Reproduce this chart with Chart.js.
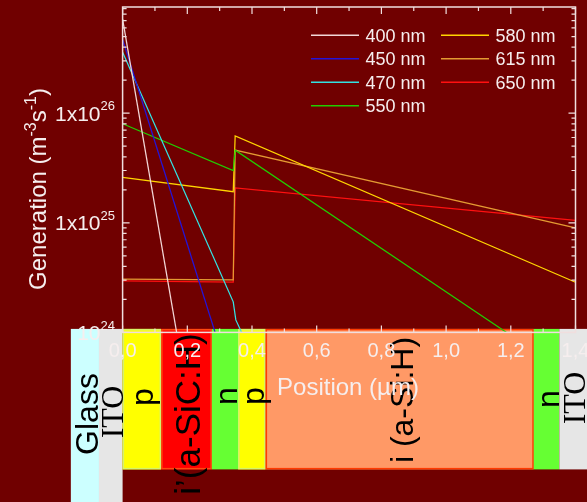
<!DOCTYPE html>
<html>
<head>
<meta charset="utf-8">
<script src="https://cdn.jsdelivr.net/npm/chart.js@4.4.1/dist/chart.umd.min.js"></script>
<style>
  html, body { margin: 0; padding: 0; background: #700000; overflow: hidden; }
  canvas { display: block; }
</style>
</head>
<body>
<canvas id="c" width="587" height="502"></canvas>
<script>
// Optical generation rate across a p-i'-n-p-i-n a-SiC:H / a-Si:H stack

const wavelengths = ['400 nm', '450 nm', '470 nm', '550 nm', '580 nm', '615 nm', '650 nm'];
const lineColors  = ['#f2d6d6', '#2414d8', '#33e2e2', '#22cc00', '#ffd400', '#e49a32', '#ff1010'];

// position (µm) / generation (m^-3 s^-1) pairs per wavelength
const pos400 = [0, 0.18];
const gen400 = [7.2e26, 6.0e23];
const pos450 = [0, 0.30];
const gen450 = [4.7e26, 7.4e23];
const pos470 = [0, 0.342, 0.350, 0.368, 0.38];
const gen470 = [3.6e26, 1.9e24, 1.3e24, 1.0e24, 9.0e23];
const pos550 = [0, 0.342, 0.348, 1.187, 1.25];
const gen550 = [8.0e25, 3.0e25, 4.6e25, 1.0e24, 7.5e23];
const pos580 = [0, 0.342, 0.348, 1.4];
const gen580 = [2.6e25, 1.92e25, 6.2e25, 2.87e24];
const pos615 = [0, 0.342, 0.348, 1.4];
const gen615 = [3.07e24, 3.02e24, 4.6e25, 9.0e24];
const pos650 = [0, 0.342, 0.348, 1.4];
const gen650 = [2.95e24, 2.88e24, 2.08e25, 1.05e25];

const positions   = [pos400, pos450, pos470, pos550, pos580, pos615, pos650];
const generations = [gen400, gen450, gen470, gen550, gen580, gen615, gen650];

// axis ticks
const xMajor = [0, 0.2, 0.4, 0.6, 0.8, 1.0, 1.2, 1.4];
const xMinor = [0.1, 0.3, 0.5, 0.7, 0.9, 1.1, 1.3];
const xTickLabels = ['0,0', '0,2', '0,4', '0,6', '0,8', '1,0', '1,2', '1,4'];
const yMajor = [1e24, 1e25, 1e26];
const yMantissa = [2, 3, 4, 5, 6, 7, 8, 9];
const yTickBase = ['10', '1x10', '1x10'];
const yTickExp  = ['24', '25', '26'];

// device layers (µm)
const layerNames = ['Glass', 'ITO', 'p', 'i\u2019(a-SiC:H)', 'n', 'p', 'i (a-Si:H)', 'n', 'ITO'];
const layerStart = [-0.160, -0.073, 0.000, 0.119, 0.276, 0.357, 0.442, 1.271, 1.350];
const layerEnd   = [-0.073,  0.000, 0.119, 0.276, 0.357, 0.442, 1.271, 1.350, 1.460];

// layer drawing styles
const layerFill   = ['#ccffff', '#e6e6e6', '#ffff00', '#ff0000', '#66ff33', '#ffff00', '#ff9966', '#66ff33', '#e6e6e6'];
const layerStroke = [null, null, '#d6f46a', '#ff4a10', null, '#d6f46a', '#ff3a00', null, null];
const layerTall   = [true, true, false, false, false, false, false, false, false];
const layerFont   = ['Liberation Sans', 'Liberation Serif', 'Liberation Sans', 'Liberation Sans', 'Liberation Sans',
                     'Liberation Sans', 'Liberation Sans', 'Liberation Sans', 'Liberation Serif'];
const layerFontSize = [32, 32, 32, 35, 32, 32, 32, 32, 32];
const labelBaseX  = [98, 123, 153, 200, 237, 264, 413, 559, 585];
const labelMidY   = [414, 412, 397, 414, 396, 396, 400, 399, 398];

const AXIS = '#f0dede';
const TEXT = '#f6eeee';

const datasets = wavelengths.map((w, i) => ({
  label: w,
  data: positions[i].map((x, k) => ({ x: x, y: generations[i][k] })),
  borderColor: lineColors[i],
  backgroundColor: lineColors[i],
  borderWidth: 1.25,
  pointRadius: 0,
  tension: 0,
  fill: false
}));

function supText(ctx, base, exp, xRight, baseY, size, supSize, rise) {
  ctx.font = size + 'px "Liberation Sans"';
  const wb = ctx.measureText(base).width;
  ctx.font = supSize + 'px "Liberation Sans"';
  const we = ctx.measureText(exp).width;
  const x0 = xRight - wb - we;
  ctx.textAlign = 'left';
  ctx.textBaseline = 'alphabetic';
  ctx.font = size + 'px "Liberation Sans"';
  ctx.fillText(base, x0, baseY);
  ctx.font = supSize + 'px "Liberation Sans"';
  ctx.fillText(exp, x0 + wb, baseY - rise);
}

const stackPlugin = {
  id: 'stack',
  beforeDraw(chart) {
    const ctx = chart.ctx;
    ctx.save();
    ctx.fillStyle = '#700000';
    ctx.fillRect(0, 0, chart.width, chart.height);
    ctx.restore();
  },
  beforeDatasetsDraw(chart) {
    const ctx = chart.ctx;
    const xs = chart.scales.x;
    const area = chart.chartArea;
    const top = area.bottom - 3.5;
    ctx.save();
    layerNames.forEach((name, i) => {
      const x0 = xs.getPixelForValue(layerStart[i]);
      const x1 = Math.min(xs.getPixelForValue(layerEnd[i]), chart.width);
      const bottom = layerTall[i] ? chart.height : area.bottom + 137;
      ctx.fillStyle = layerFill[i];
      ctx.fillRect(x0, top, x1 - x0, bottom - top);
      if (layerStroke[i]) {
        ctx.strokeStyle = layerStroke[i];
        ctx.lineWidth = 1.5;
        ctx.strokeRect(x0 + 0.75, top + 0.75, x1 - x0 - 1.5, bottom - top - 1.5);
      }
    });
    layerNames.forEach((name, i) => {
      ctx.save();
      ctx.translate(labelBaseX[i], labelMidY[i]);
      ctx.rotate(-Math.PI / 2);
      ctx.fillStyle = '#000000';
      ctx.font = layerFontSize[i] + 'px "' + layerFont[i] + '"';
      ctx.textAlign = 'center';
      ctx.textBaseline = 'alphabetic';
      ctx.fillText(name, 0, 0);
      ctx.restore();
    });
    ctx.restore();
  },
  afterDatasetsDraw(chart) {
    const ctx = chart.ctx;
    const xs = chart.scales.x;
    const ys = chart.scales.y;
    const a = chart.chartArea;
    ctx.save();
    // frame
    ctx.strokeStyle = AXIS;
    ctx.lineWidth = 1.5;
    ctx.strokeRect(a.left, a.top, a.right - a.left, a.bottom - a.top);
    // x ticks (inward, top and bottom)
    ctx.lineWidth = 1.2;
    const xt = (v, len) => {
      const p = xs.getPixelForValue(v);
      ctx.beginPath();
      ctx.moveTo(p, a.bottom); ctx.lineTo(p, a.bottom - len);
      ctx.moveTo(p, a.top); ctx.lineTo(p, a.top + len);
      ctx.stroke();
    };
    xMajor.forEach(v => xt(v, 7));
    xMinor.forEach(v => xt(v, 4));
    // y ticks (inward, left and right)
    const yt = (v, len) => {
      const p = ys.getPixelForValue(v);
      if (p < a.top - 0.5 || p > a.bottom + 0.5) return;
      ctx.beginPath();
      ctx.moveTo(a.left, p); ctx.lineTo(a.left + len, p);
      ctx.moveTo(a.right, p); ctx.lineTo(a.right - len, p);
      ctx.stroke();
    };
    yMajor.forEach(v => {
      yt(v, 7);
      yMantissa.forEach(m => yt(v * m, 4));
    });
    // tick labels
    ctx.fillStyle = TEXT;
    ctx.font = '20px "Liberation Sans"';
    ctx.textAlign = 'center';
    ctx.textBaseline = 'alphabetic';
    xMajor.forEach((v, i) => {
      ctx.fillText(xTickLabels[i], xs.getPixelForValue(v), a.bottom + 24.5);
    });
    yMajor.forEach((v, i) => {
      const p = ys.getPixelForValue(v);
      supText(ctx, yTickBase[i], yTickExp[i], 115, p + 7.7, 21, 13, 10.5);
    });
    // axis titles
    ctx.font = '24px "Liberation Sans"';
    ctx.textAlign = 'center';
    ctx.fillText('Position (\u00b5m)', 348, 395);

    ctx.save();
    ctx.translate(45.5, 0);
    ctx.rotate(-Math.PI / 2);
    const parts = [['Generation (m', 24, 0], ['-3', 16, 9.5], ['s', 24, 0], ['-1', 16, 9.5], [')', 24, 0]];
    let total = 0;
    parts.forEach(p => { ctx.font = p[1] + 'px "Liberation Sans"'; total += ctx.measureText(p[0]).width; });
    let cx = -189 - total / 2;
    ctx.textAlign = 'left';
    parts.forEach(p => {
      ctx.font = p[1] + 'px "Liberation Sans"';
      ctx.fillText(p[0], cx, -p[2]);
      cx += ctx.measureText(p[0]).width;
    });
    ctx.restore();

    // legend, two columns
    const colLine = [311, 441];
    const rowY0 = 35.3, rowStep = 23.5;
    ctx.font = '18px "Liberation Sans"';
    ctx.textAlign = 'left';
    chart.data.datasets.forEach((ds, i) => {
      const col = i < 4 ? 0 : 1;
      const row = i < 4 ? i : i - 4;
      const y = rowY0 + row * rowStep;
      const x = colLine[col];
      ctx.strokeStyle = ds.borderColor;
      ctx.lineWidth = 1.6;
      ctx.beginPath();
      ctx.moveTo(x, y); ctx.lineTo(x + 48, y);
      ctx.stroke();
      ctx.fillStyle = TEXT;
      ctx.fillText(ds.label, x + 54.5, y + 6.3);
    });
    ctx.restore();
  }
};

new Chart(document.getElementById('c'), {
  type: 'line',
  data: { datasets: datasets },
  options: {
    responsive: false,
    animation: false,
    devicePixelRatio: 1,
    layout: { padding: { left: 122.6, right: 11.5, top: 7, bottom: 169.6 } },
    scales: {
      x: { type: 'linear', min: 0, max: 1.4, display: false },
      y: { type: 'logarithmic', min: 1e24, max: 9.3e26, display: false }
    },
    plugins: { legend: { display: false }, tooltip: { enabled: false } }
  },
  plugins: [stackPlugin]
});
</script>
</body>
</html>
